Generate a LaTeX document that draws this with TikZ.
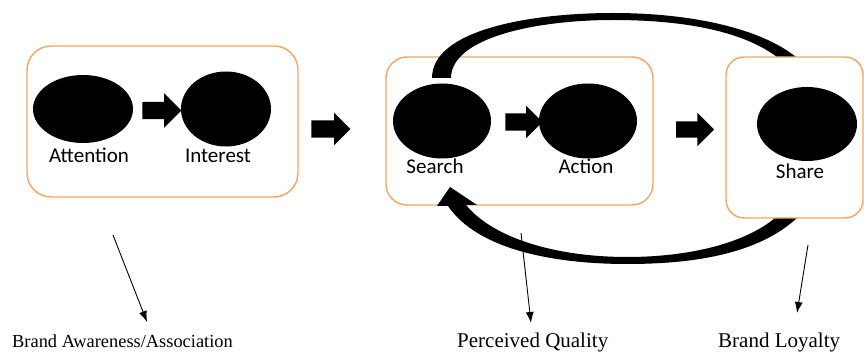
\documentclass[tikz,border=0pt]{standalone}
\usepackage{fontspec}
\setmainfont{Liberation Serif}
\newfontfamily\carlitofont{Carlito}
\usetikzlibrary{shapes.geometric,shapes.arrows,arrows.meta}
\definecolor{boxorange}{RGB}{247,163,98}
\begin{document}
\begin{tikzpicture}[x=1pt,y=-1pt,
  stage/.style={draw=boxorange,line width=1.4pt},
  blob/.style={ellipse,fill=black,inner sep=0pt},
  lbl/.style={font=\carlitofont\fontsize{21}{25}\selectfont,anchor=base,inner sep=0pt},
  blockarrow/.style={single arrow,fill=black,inner xsep=0pt,inner ysep=8.5pt,single arrow head indent=0pt,font=\fontsize{1}{1}\selectfont},
  pointer/.style={line width=0.9pt,-{Latex[length=11pt,width=8pt]}},
  outcome/.style={font=\fontsize{21}{25}\selectfont,anchor=base west,inner sep=0pt}]
\useasboundingbox (0,0) rectangle (864,352);
\clip (0,0) rectangle (864,352);

% left stage
\draw[stage,rounded corners=24pt] (27,46) rectangle (298,197);
\node[blob,minimum width=100pt,minimum height=68pt] (att) at (83,109) {};
\node[blob,minimum width=90pt,minimum height=75pt] (int) at (226,109) {};
\node[lbl] (attl) at (89,163) {Attention};
\node[lbl] (intl) at (218,163) {Interest};
\node[blockarrow,minimum height=39pt,single arrow head extend=8.5pt] (a1) at (157.5,110.5) {};

% big arrow 1
\node[blockarrow,minimum height=39pt,single arrow head extend=7.5pt] (b1) at (326.5,129) {};

% middle stage
\draw[stage,rounded corners=21pt] (386,57) rectangle (653,205);
\node[blob,minimum width=98pt,minimum height=75pt] (search) at (442,121) {};
\node[blob,minimum width=98pt,minimum height=75pt] (action) at (588,121) {};
\node[lbl] (searchl) at (435,174) {Search};
\node[lbl] (actionl) at (586,174) {Action};
\node[blockarrow,minimum height=37pt,single arrow head extend=7.5pt] (a2) at (519.5,122) {};

% big arrow 2
\node[blockarrow,minimum height=38pt,inner ysep=8pt,single arrow head extend=8.5pt] (b2) at (691,129.5) {};

% top arc
\fill (432,78) .. controls (432,30) and (530,13) .. (613,13)
  .. controls (690,13) and (760,28) .. (796,57) -- (802,66) -- (783,66) -- (777,57)
  .. controls (745,33) and (690,20) .. (613,20)
  .. controls (535,20) and (451,38) .. (451,78) -- cycle;

% bottom arc with head
\fill (437,206) -- (450,187) -- (477,205) -- (466,205)
  .. controls (495,240) and (560,257) .. (627,257)
  .. controls (690,257) and (745,243) .. (775,218) -- (781,209) -- (802,209) -- (797,218)
  .. controls (760,252) and (700,264) .. (627,264)
  .. controls (555,264) and (478,250) .. (448,206) -- cycle;

% right stage
\draw[stage,fill=white,rounded corners=18pt] (726,57) rectangle (863,218);
\node[blob,minimum width=100pt,minimum height=74pt] (share) at (807,124) {};
\node[lbl] (sharel) at (800,179) {Share};

% pointers
\coordinate (p1s) at (113,235); \coordinate (p1e) at (147,322);
\coordinate (p2s) at (521,233); \coordinate (p2e) at (531,323);
\coordinate (p3s) at (808,245); \coordinate (p3e) at (797,313);
\draw[pointer] (p1s) -- (p1e);
\draw[pointer] (p2s) -- (p2e);
\draw[pointer] (p3s) -- (p3e);

\node[outcome,font=\fontsize{18.4}{22}\selectfont] (o1) at (12,348) {Brand Awareness/Association};
\node[outcome] (o2) at (457,348) {Perceived Quality};
\node[outcome] (o3) at (718,348) {Brand Loyalty};
\end{tikzpicture}
\end{document}
